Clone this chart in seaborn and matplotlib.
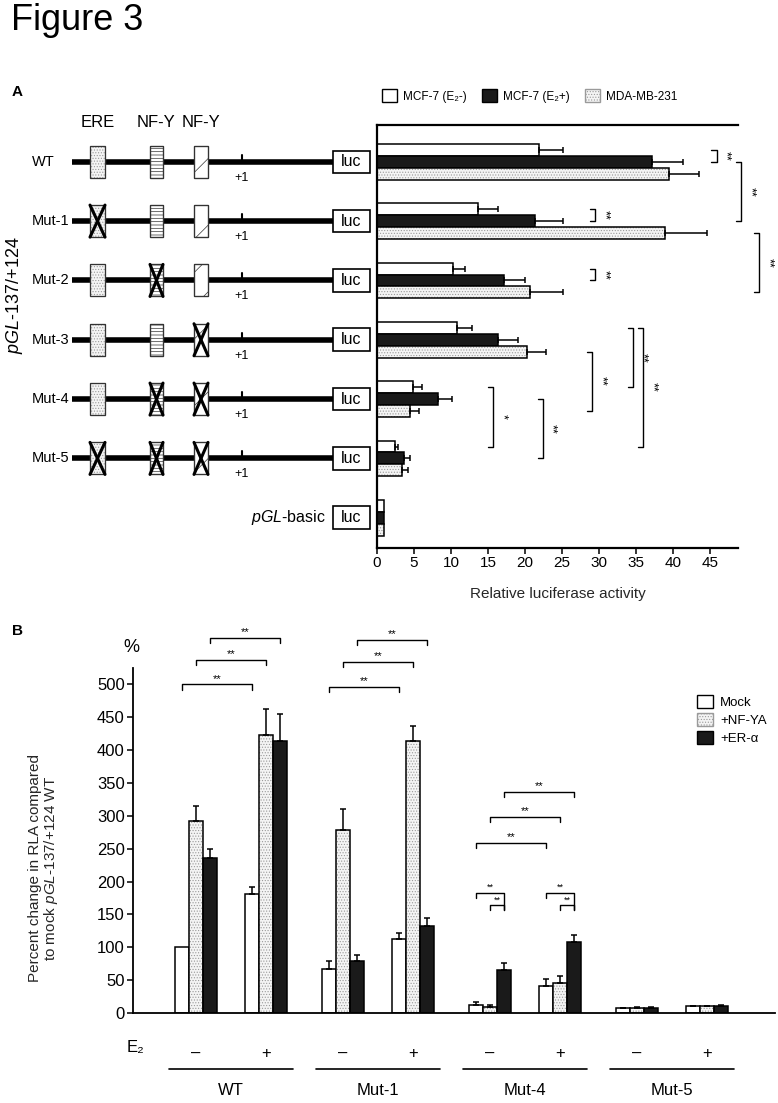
import matplotlib
matplotlib.use("Agg")
import matplotlib.pyplot as plt
from matplotlib.patches import Patch, Rectangle
import pandas as pd
import seaborn as sns

sns.set_theme(style="ticks")
plt.rcParams["font.family"] = ["Liberation Sans", "DejaVu Sans"]
plt.rcParams.update({
    "mathtext.fontset": "custom",
    "mathtext.rm": "Liberation Sans",
    "mathtext.it": "Liberation Sans:italic",
    "mathtext.bf": "Liberation Sans:bold",
    "hatch.linewidth": 0.5,
    "axes.edgecolor": "black",
    "xtick.color": "black",
    "ytick.color": "black",
    "text.color": "black",
})

# ─────────────────────────────────────────────────────────────────────
# Panel A data: relative luciferase activity (mean, SD)
# ─────────────────────────────────────────────────────────────────────
CONSTRUCTS = ["WT", "Mut-1", "Mut-2", "Mut-3", "Mut-4", "Mut-5", "pGL-basic"]
CELLS = ["MCF-7 (E₂-)", "MCF-7 (E₂+)", "MDA-MB-231"]
RLA_E2_NEG = [21.9, 13.7, 10.3, 10.8, 4.8, 2.4, 1.0]
RLA_E2_POS = [37.2, 21.4, 17.2, 16.4, 8.2, 3.6, 1.0]
RLA_MDA = [39.5, 38.9, 20.7, 20.3, 4.5, 3.4, 1.0]
SD_E2_NEG = [3.2, 2.6, 1.6, 2.0, 1.3, 0.5, 0]
SD_E2_POS = [4.2, 3.7, 2.8, 2.7, 1.9, 0.9, 0]
SD_MDA = [4.0, 5.7, 4.5, 2.6, 1.2, 0.8, 0]

# promoter sites and which ones are mutated in each construct
SITE_NAMES = ["ERE", "NF-Y", "NF-Y"]
MUTATED_SITES = [[], [0], [1], [2], [1, 2], [0, 1, 2]]

# significance: (construct a, cell a, construct b, cell b, x position, label)
SIG_A = [
    (0, 0, 0, 1, 45.9, "**"),
    (0, 1, 1, 1, 49.2, "**"),
    (1, 0, 1, 1, 29.5, "**"),
    (1, 2, 2, 2, 51.7, "**"),
    (2, 0, 2, 1, 29.5, "**"),
    (4, 0, 5, 0, 15.7, "*"),
    (4, 1, 5, 1, 22.4, "**"),
    (3, 2, 4, 2, 29.1, "**"),
    (3, 0, 4, 0, 34.6, "**"),
    (3, 0, 5, 0, 36.0, "**"),
]

# ─────────────────────────────────────────────────────────────────────
# Panel B data: % of mock pGL-137/+124 WT
# ─────────────────────────────────────────────────────────────────────
GENOTYPES = ["WT", "Mut-1", "Mut-4", "Mut-5"]
E2_SIGNS = ["–", "+"]
TREATMENTS = ["Mock", "+NF-YA", "+ER-α"]
PCT_MOCK = [100, 180.6, 66.4, 112, 11.7, 41.6, 7, 10]
PCT_NFYA = [292, 423, 278.5, 414.5, 9.1, 45.7, 7.5, 10]
PCT_ERA = [235.5, 414.5, 79, 132.4, 65.5, 108.5, 8, 10.5]
SD_MOCK = [0, 11.4, 12.6, 10, 5, 10.2, 1, 1]
SD_NFYA = [23.6, 39.7, 32, 22.3, 3.1, 10.6, 1, 1]
SD_ERA = [14.5, 40.5, 10, 11.6, 10.1, 10.2, 1, 1]

# significance: (condition a, treatment a, condition b, treatment b, y, label, right drop)
SIG_B = [
    (0, 0, 1, 0, 500, "**", 8), (0, 1, 1, 1, 537, "**", 8), (0, 2, 1, 2, 571, "**", 8),
    (2, 0, 3, 0, 496, "**", 8), (2, 1, 3, 1, 534, "**", 8), (2, 2, 3, 2, 568, "**", 8),
    (4, 0, 5, 0, 259, "**", 8), (4, 1, 5, 1, 299, "**", 8), (4, 2, 5, 2, 336, "**", 8),
    (4, 0, 4, 2, 183, "**", 27), (4, 1, 4, 2, 164, "**", 8),
    (5, 0, 5, 2, 183, "**", 27), (5, 1, 5, 2, 164, "**", 8),
]

# ─────────────────────────────────────────────────────────────────────
# Styles / layout
# ─────────────────────────────────────────────────────────────────────
FIG_W, FIG_H = 778, 1103
DARK = "#1a1a1a"
STIP_FACE, STIP_DOT, STIP_HATCH = "#f4f4f4", "#9a9a9a", "......"
GROUP_PITCH = 2.1
HUE_OFFSETS = [-0.2, 0.0, 0.2]


def px_box(x0, y0, x1, y1):
    return [x0 / FIG_W, 1 - y1 / FIG_H, (x1 - x0) / FIG_W, (y1 - y0) / FIG_H]


def stipple(ax, container, lw):
    for p in container:
        p.set_facecolor(STIP_FACE); p.set_edgecolor(STIP_DOT)
        p.set_hatch(STIP_HATCH); p.set_linewidth(0)
        ax.add_patch(Rectangle(p.get_xy(), p.get_width(), p.get_height(), fill=False,
                               edgecolor="black", linewidth=lw, zorder=1.5))


fig = plt.figure(figsize=(FIG_W / 100, FIG_H / 100), dpi=100)
axA = fig.add_axes(px_box(377, 125, 738, 548))
axD = fig.add_axes(px_box(0, 125, 377, 548))
axB = fig.add_axes(px_box(133, 668, 775, 1013))

fig.text(11 / FIG_W, 1 - 3 / FIG_H, "Figure 3", fontsize=26, va="top")
fig.text(12 / FIG_W, 1 - 92 / FIG_H, "A", fontsize=11, fontweight="bold", va="center")
fig.text(12 / FIG_W, 1 - 631 / FIG_H, "B", fontsize=11, fontweight="bold", va="center")

# ── Panel A bars ─────────────────────────────────────────────────────
rows = []
for cell, vals in zip(CELLS, [RLA_E2_NEG, RLA_E2_POS, RLA_MDA]):
    for c, v in zip(CONSTRUCTS, vals):
        rows.append((c, cell, v))
dfa = pd.DataFrame(rows, columns=["construct", "cell", "rla"])
sns.barplot(dfa, x="rla", y="construct", hue="cell", order=CONSTRUCTS, hue_order=CELLS,
            palette=dict(zip(CELLS, ["white", DARK, STIP_FACE])), orient="h", width=0.6,
            errorbar=None, edgecolor="black", linewidth=1.1, saturation=1, legend=False, ax=axA)
stipple(axA, axA.containers[2], 1.1)
for cont, sds in zip(axA.containers, [SD_E2_NEG, SD_E2_POS, SD_MDA]):
    for p, sd in zip(cont, sds):
        if sd > 0:
            axA.errorbar(p.get_width(), p.get_y() + p.get_height() / 2, xerr=[[0], [sd]],
                         fmt="none", ecolor="black", elinewidth=1.1, capsize=2.5, capthick=1.1)

for ra, ca, rb, cb, x, lab in SIG_A:
    ya, yb = ra + HUE_OFFSETS[ca], rb + HUE_OFFSETS[cb]
    axA.plot([x - 0.7, x, x, x - 0.7], [ya, ya, yb, yb], color="black", lw=1.0, clip_on=False)
    axA.text(x + 0.4, (ya + yb) / 2, lab, rotation=270, ha="left", va="center", fontsize=9)

axA.set_xlim(0, 48.8)
axA.set_ylim(6.51, -0.62)
axA.set_xticks(range(0, 50, 5))
axA.set_yticks([])
axA.set_ylabel("")
axA.set_xlabel("Relative luciferase activity", fontsize=11, labelpad=12)
axA.tick_params(axis="x", direction="out", length=4, width=1.1, labelsize=11, pad=2)
for s in ["left", "top", "bottom"]:
    axA.spines[s].set_linewidth(1.6)
axA.spines["right"].set_visible(False)

legA = [Patch(facecolor="white", edgecolor="black", linewidth=1),
        Patch(facecolor=DARK, edgecolor="black", linewidth=1),
        Patch(facecolor=STIP_FACE, edgecolor=STIP_DOT, hatch=STIP_HATCH, linewidth=1)]
fig.legend(legA, CELLS, loc="center left", bbox_to_anchor=(382 / FIG_W, 1 - 96 / FIG_H),
           ncol=3, frameon=False, fontsize=8.5, handlelength=1.3, handleheight=1.2,
           handletextpad=0.5, columnspacing=1.25, borderpad=0, borderaxespad=0)

# ── Panel A construct diagrams ───────────────────────────────────────
axD.set_xlim(0, 377)
axD.set_ylim(axA.get_ylim())
axD.axis("off")
SITE_SPANS = [(90, 105), (150, 163), (194, 208)]
BOX_H, LUC_H = 0.27, 0.19
for (s0, s1), name in zip(SITE_SPANS, SITE_NAMES):
    axD.text((s0 + s1) / 2, -0.66, name, ha="center", va="center", fontsize=12)

for i, cname in enumerate(CONSTRUCTS):
    axD.add_patch(Rectangle((333, i - LUC_H), 37, 2 * LUC_H, facecolor="white",
                            edgecolor="black", lw=1.2, zorder=3))
    axD.text(351.5, i, "luc", ha="center", va="center", fontsize=11.5, zorder=4)
    if i >= len(MUTATED_SITES):
        axD.text(326, i, r"$\mathit{pGL}$-basic", ha="right", va="center", fontsize=11.5)
        continue
    axD.text(32, i, cname, ha="left", va="center", fontsize=10.5)
    axD.plot([72, 333], [i, i], color="black", lw=4, solid_capstyle="butt", zorder=1)
    axD.plot([242, 242], [i, i - 0.12], color="black", lw=1.5, zorder=1)
    axD.text(242, i + 0.27, "+1", ha="center", va="center", fontsize=9)
    for k, (s0, s1) in enumerate(SITE_SPANS):
        if k == 0:
            kw = dict(facecolor=STIP_FACE, edgecolor=STIP_DOT, hatch=STIP_HATCH)
        elif k == 1:
            kw = dict(facecolor="white", edgecolor="#333333", hatch="-----")
        else:
            kw = dict(facecolor="white", edgecolor="#333333", hatch="/")
        axD.add_patch(Rectangle((s0, i - BOX_H), s1 - s0, 2 * BOX_H, lw=0.8, zorder=2, **kw))
        axD.add_patch(Rectangle((s0, i - BOX_H), s1 - s0, 2 * BOX_H, fill=False,
                                edgecolor="#333333", lw=0.9, zorder=2.5))
        if k in MUTATED_SITES[i]:
            axD.plot([s0, s1], [i - BOX_H, i + BOX_H], color="black", lw=2.2, zorder=3)
            axD.plot([s0, s1], [i + BOX_H, i - BOX_H], color="black", lw=2.2, zorder=3)

axD.text(15, 2.25, r"$\mathit{pGL}$-137/+124", rotation=90, ha="center", va="center", fontsize=13)

# ── Panel B ──────────────────────────────────────────────────────────
positions = [g * GROUP_PITCH + e for g in range(len(GENOTYPES)) for e in range(len(E2_SIGNS))]
rows = []
for t, vals in zip(TREATMENTS, [PCT_MOCK, PCT_NFYA, PCT_ERA]):
    for pos, v in zip(positions, vals):
        rows.append((pos, t, v))
dfb = pd.DataFrame(rows, columns=["pos", "treatment", "pct"])
sns.barplot(dfb, x="pos", y="pct", hue="treatment", hue_order=TREATMENTS, native_scale=True,
            palette=dict(zip(TREATMENTS, ["white", STIP_FACE, DARK])), orient="x", width=0.6,
            errorbar=None, edgecolor="black", linewidth=1.1, saturation=1, legend=False, ax=axB)
stipple(axB, axB.containers[1], 1.1)
for cont, sds in zip(axB.containers, [SD_MOCK, SD_NFYA, SD_ERA]):
    for p, sd in zip(cont, sds):
        if sd > 0:
            axB.errorbar(p.get_x() + p.get_width() / 2, p.get_height(), yerr=[[0], [sd]],
                         fmt="none", ecolor="black", elinewidth=1.1, capsize=2.5, capthick=1.1)

for ca, ta, cb, tb, y, lab, drop_r in SIG_B:
    xa = positions[ca] + HUE_OFFSETS[ta]
    xb = positions[cb] + HUE_OFFSETS[tb]
    axB.plot([xa, xa, xb, xb], [y - 8, y, y, y - drop_r], color="black", lw=1.0, clip_on=False)
    axB.text((xa + xb) / 2, y + 1, lab, ha="center", va="bottom",
             fontsize=6.5 if ca == cb else 8)

axB.set_xlim(-0.9, 8.27)
axB.set_ylim(0, 525)
axB.set_yticks(range(0, 501, 50))
axB.set_xticks(positions, E2_SIGNS * len(GENOTYPES))
axB.tick_params(axis="x", length=0, labelsize=12, pad=24)
axB.tick_params(axis="y", direction="out", length=4, width=1.1, labelsize=12, pad=2)
axB.set_xlabel("")
axB.set_ylabel("Percent change in RLA compared\n" r"to mock $\mathit{pGL}$-137/+124 WT",
               fontsize=11, linespacing=0.95)
axB.yaxis.set_label_coords(-0.114, 0.42)
sns.despine(ax=axB)
for s in ["left", "bottom"]:
    axB.spines[s].set_linewidth(1.3)

xt = axB.get_xaxis_transform()
axB.text(-0.86, -0.101, "E₂", transform=xt, ha="center", va="center", fontsize=12)
axB.text(-0.93, 1.058, "%", transform=xt, ha="center", va="center", fontsize=13)
for g, name in enumerate(GENOTYPES):
    c = g * GROUP_PITCH + 0.5
    axB.plot([c - 0.89, c + 0.89], [-0.162, -0.162], transform=xt, color="black", lw=1.2,
             clip_on=False)
    axB.text(c, -0.224, name, transform=xt, ha="center", va="center", fontsize=12)

legB = [Patch(facecolor="white", edgecolor="black", linewidth=1),
        Patch(facecolor=STIP_FACE, edgecolor=STIP_DOT, hatch=STIP_HATCH, linewidth=1),
        Patch(facecolor=DARK, edgecolor="black", linewidth=1)]
fig.legend(legB, TREATMENTS, loc="upper left", bbox_to_anchor=(697 / FIG_W, 1 - 695 / FIG_H),
           ncol=1, frameon=False, fontsize=9.5, handlelength=1.2, handleheight=1.15,
           handletextpad=0.55, labelspacing=0.3, borderpad=0, borderaxespad=0)

fig.savefig("out.png", dpi=100)
